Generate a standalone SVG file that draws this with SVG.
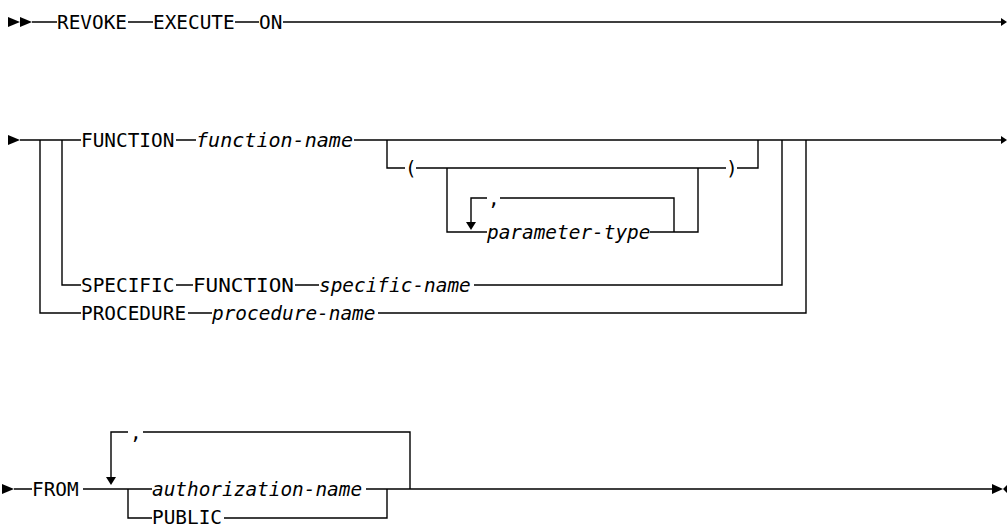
<svg xmlns="http://www.w3.org/2000/svg" width="1007" height="527" viewBox="0 0 1007 527">
<style>
text{font-family:"DejaVu Sans Mono","Liberation Mono",monospace;font-size:19.4px;fill:#000}
.v{font-style:italic}
.ln{stroke:#000;stroke-width:1.4;fill:none}
.ah{fill:#000;stroke:none}
</style>
<rect width="1007" height="527" fill="#fff"/>
<g id="connectors">
<path class="ln" d="M32 22H57M128 22H153M235 22H259M283 22H1001"/>
<path class="ln" d="M20 140H81M176 140H196M354 140H1001"/>
<path class="ln" d="M40 140V313H81M62 140V285H81"/>
<path class="ln" d="M387 140V168H405M416 168H726M737 168H758V140"/>
<path class="ln" d="M447 168V232H487M650 232H698V168"/>
<path class="ln" d="M471 222V198H487M500 198H674V232"/>
<path class="ln" d="M176 285H193M295 285H319M474 285H782V140M188 313H212M378 313H806V140"/>
<path class="ln" d="M14 489H32M83 489H152M366 489H992M111 477V432H128M143 432H410V489M128 489V518H152M224 518H387V489"/>
<polygon class="ah" points="8,17 20,22 8,27"/>
<polygon class="ah" points="20,17 32,22 20,27"/>
<polygon class="ah" points="1001,18 1007,22 1001,26"/>
<polygon class="ah" points="8,135 20,140 8,145"/>
<polygon class="ah" points="1001,136 1007,140 1001,144"/>
<polygon class="ah" points="466,222 476,222 471,230"/>
<polygon class="ah" points="2,484 14,489 2,494"/>
<polygon class="ah" points="106,477 116,477 111,485"/>
<polygon class="ah" points="992,484 1003,489 992,494"/>
<polygon class="ah" points="1007,485 1003,489 1007,493"/>
</g>
<g id="revoke"><text x="57" y="29">REVOKE</text></g>
<g id="execute"><text x="153" y="29">EXECUTE</text></g>
<g id="on"><text x="259" y="29">ON</text></g>
<g id="function"><text x="81" y="147">FUNCTION</text></g>
<g id="function-name"><text class="v" x="196" y="147" textLength="157" lengthAdjust="spacingAndGlyphs">function-name</text></g>
<g id="lparen"><text x="405" y="175">(</text></g>
<g id="rparen"><text x="726" y="175">)</text></g>
<g id="comma1"><text x="488" y="205">,</text></g>
<g id="parameter-type"><text class="v" x="487" y="239">parameter-type</text></g>
<g id="specific"><text x="81" y="292">SPECIFIC</text></g>
<g id="function2"><text x="193" y="292" textLength="101" lengthAdjust="spacingAndGlyphs">FUNCTION</text></g>
<g id="specific-name"><text class="v" x="319" y="292">specific-name</text></g>
<g id="procedure"><text x="81" y="320">PROCEDURE</text></g>
<g id="procedure-name"><text class="v" x="212" y="320">procedure-name</text></g>
<g id="from"><text x="32" y="496">FROM</text></g>
<g id="comma2"><text x="130" y="439">,</text></g>
<g id="authorization-name"><text class="v" x="152" y="496">authorization-name</text></g>
<g id="public"><text x="152" y="524">PUBLIC</text></g>
</svg>
